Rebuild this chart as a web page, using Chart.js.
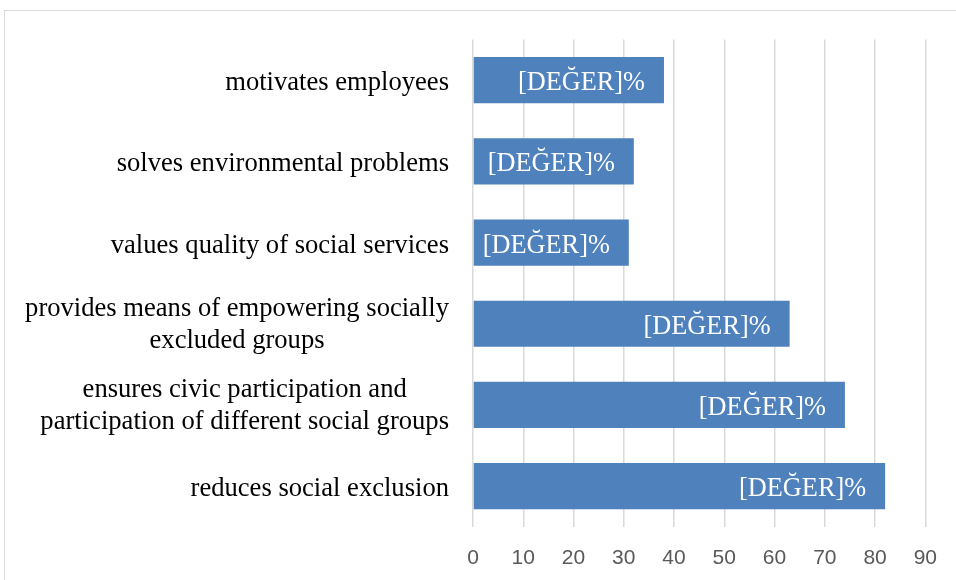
<!DOCTYPE html>
<html><head><meta charset="utf-8">
<script src="https://cdn.jsdelivr.net/npm/chart.js@4"></script>
<style>
html,body{margin:0;padding:0;background:#fff;}
#wrap{position:relative;width:956px;height:580px;overflow:hidden;background:#fff}
#frame{position:absolute;left:4px;top:10px;width:1000px;height:1000px;border:1.5px solid #d9d9d9;box-sizing:border-box}
canvas{position:absolute;left:0;top:0}
</style></head><body>
<div id="wrap"><div id="frame"></div><canvas id="c" width="956" height="605"></canvas></div>
<script>
const categories = [
  ["motivates employees"],
  ["solves environmental problems"],
  ["values quality of social services"],
  ["provides means of empowering socially", "excluded groups"],
  ["ensures civic participation and", "participation of different social groups"],
  ["reduces social exclusion"]
];
const values = [38, 32, 31, 63, 74, 82];
const valueLabel = "[DEĞER]%";
const xMin = 0, xMax = 90, xStep = 10;

const serif = '"Liberation Serif", "Times New Roman", serif';

const labelPlugin = {
  id: 'labels',
  afterDatasetsDraw(chart) {
    const ctx = chart.ctx;
    const meta = chart.getDatasetMeta(0);
    ctx.save();
    ctx.font = '26.3px ' + serif;
    ctx.fillStyle = '#ffffff';
    ctx.textAlign = 'right';
    ctx.textBaseline = 'alphabetic';
    meta.data.forEach((bar) => {
      ctx.fillText(valueLabel, bar.x - 19, bar.y + 10);
    });
    // category labels
    const yScale = chart.scales.y;
    const right = chart.chartArea.left - 24;
    const lh = 32;
    ctx.font = '26.6px ' + serif;
    ctx.fillStyle = '#000000';
    ctx.textAlign = 'center';
    categories.forEach((lines, i) => {
      const cy = yScale.getPixelForValue(i);
      const w = Math.max(...lines.map(l => ctx.measureText(l).width));
      const cx = right - w / 2;
      const y0 = cy - (lines.length - 1) * lh / 2;
      lines.forEach((l, k) => ctx.fillText(l, cx, y0 + k * lh + (lines.length > 1 ? 8 : 10)));
    });
    ctx.restore();
  }
};

new Chart(document.getElementById('c'), {
  type: 'bar',
  data: {
    labels: categories.map(c => c.join(' ')),
    datasets: [{
      data: values,
      backgroundColor: '#4f81bd',
      borderWidth: 0,
      categoryPercentage: 1,
      barPercentage: 0.569
    }]
  },
  options: {
    indexAxis: 'y',
    responsive: false,
    animation: false,
    devicePixelRatio: 1,
    layout: { padding: { left: 473, right: 26, top: 39.5, bottom: 15 } },
    plugins: { legend: { display: false }, tooltip: { enabled: false } },
    scales: {
      x: {
        min: xMin, max: xMax,
        ticks: { stepSize: xStep, padding: 19, color: '#595959', font: { family: '"Liberation Sans", Arial, sans-serif', size: 21 } },
        grid: { color: '#d9d9d9', lineWidth: 1.5, drawTicks: false },
        border: { display: false }
      },
      y: { display: false }
    }
  },
  plugins: [labelPlugin]
});
</script>
</body></html>
